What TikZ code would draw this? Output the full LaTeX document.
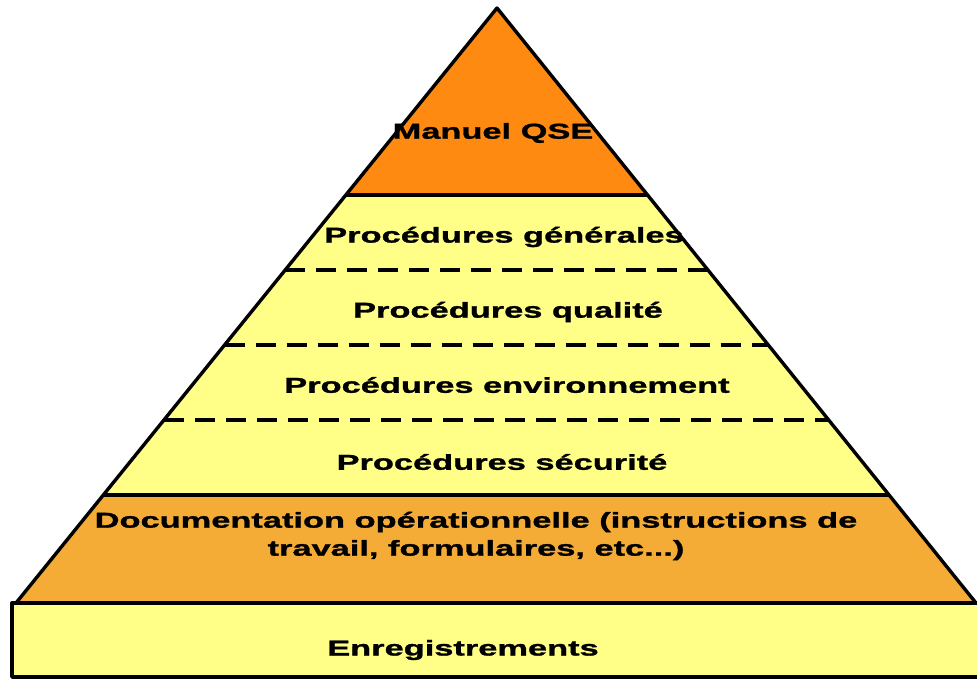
\documentclass[tikz,border=0pt]{standalone}
\usepackage{fontspec}
\setmainfont{Liberation Sans}[FakeStretch=1.6, BoldFeatures={FakeBold=1.3}]
\usetikzlibrary{calc}
\definecolor{apexorange}{HTML}{FF8A12}
\definecolor{paleyellow}{HTML}{FFFF88}
\definecolor{docorange}{HTML}{F4AC36}
\tikzset{
  outline/.style={line width=3.4pt, line join=round},
  dashsep/.style={line width=3.4pt, dash pattern=on 20pt off 11pt},
  solidsep/.style={line width=3.2pt},
  lbl/.style={font=\fontsize{21.5}{28}\selectfont\bfseries, inner sep=0pt, align=center}
}
\begin{document}
\begin{tikzpicture}[x=1pt,y=-1pt]
\useasboundingbox (0,0) rectangle (977,680);
% key points
\coordinate (A) at (497,8);
\coordinate (L) at (16,603);
\coordinate (R) at (976,603);
\foreach \n/\t in {a/0.31429, b/0.44034, c/0.56639, d/0.69244, e/0.81849}{
  \coordinate (\n l) at ($(A)!\t!(L)$);
  \coordinate (\n r) at ($(A)!\t!(R)$);
}
% fills
\fill[apexorange] (A) -- (al) -- (ar) -- cycle;
\fill[paleyellow] (al) -- (el) -- (er) -- (ar) -- cycle;
\fill[docorange] (el) -- (L) -- (R) -- (er) -- cycle;
% base block
\coordinate (B1) at (12,603);
\coordinate (B2) at (979,677);
\filldraw[fill=paleyellow, outline] (B1) rectangle (B2);
% separators
\draw[solidsep] (al) -- (ar);
\draw[dashsep] (bl) -- (br);
\draw[dashsep] (cl) -- (cr);
\draw[dashsep] (dl) -- (dr);
\draw[solidsep] (el) -- (er);
% pyramid outline
\draw[outline] (L) -- (A) -- (R);
\draw[outline] (L) -- (R);
% labels
\node[lbl] (manuel) at (493,133) {Manuel QSE};
\node[lbl] (gen) at (504,237) {Procédures générales};
\node[lbl] (qual) at (508,312) {Procédures qualité};
\node[lbl] (env) at (507,385) {Procédures environnement};
\node[lbl] (secu) at (502,462) {Procédures sécurité};
\node[lbl] (doc) at (476,536) {Documentation opérationnelle (instructions de\\travail, formulaires, etc...)};
\node[lbl] (enr) at (463,650) {Enregistrements};
\end{tikzpicture}
\end{document}
